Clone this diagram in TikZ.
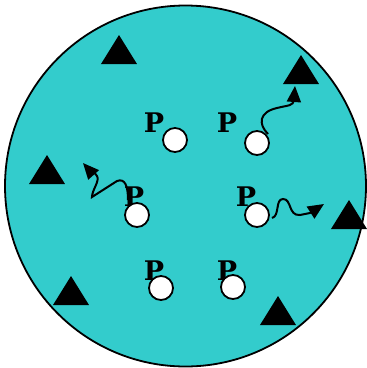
\documentclass[tikz,border=0pt]{standalone}
\usepackage{fontspec}
\newfontfamily\pfont{DejaVu Serif}
\usetikzlibrary{arrows.meta}
\tikzset{
  hole/.style={circle,draw=black,fill=white,line width=1.8pt,minimum size=24pt,inner sep=0pt},
  plabel/.style={font=\pfont\bfseries\fontsize{27}{27}\selectfont,inner sep=0pt},
  tri/.style={fill=black},
  bigtip/.tip={Triangle[length=16pt,width=14pt]},
  wavy/.style={line width=2pt,-bigtip}}
\begin{document}
\begin{tikzpicture}[x=1pt,y=-1pt]
\useasboundingbox (0,0) rectangle (367,368);
\node[circle,draw=black,fill={rgb,255:red,51;green,204;blue,204},line width=1.8pt,minimum size=361pt,inner sep=0pt] (disc) at (185.5,186) {};
% triangles
\foreach \x/\y in {119/50,301/70,47/170,349/215,71/291,278/311}
  \fill[tri] (\x-18,\y+14) -- (\x,\y-15) -- (\x+18,\y+14) -- cycle;
% labels and holes
\node[plabel] (p1) at (154,123) {P};
\node[plabel] (p2) at (227,123) {P};
\node[plabel] (p3) at (134,197) {P};
\node[plabel] (p4) at (246,197) {P};
\node[plabel] (p5) at (154,271) {P};
\node[plabel] (p6) at (227,271) {P};
\node[hole] (h1) at (175,140) {};
\node[hole] (h2) at (257,143) {};
\node[hole] (h3) at (137,215) {};
\node[hole] (h4) at (257,215) {};
\node[hole] (h5) at (161,288) {};
\node[hole] (h6) at (233,287) {};
\coordinate (e1) at (295,86);
\coordinate (e2) at (324,204);
\coordinate (e3) at (83,163);
\draw[wavy] (268,134) .. controls (258,124) and (259,112) .. (277,108) .. controls (289,105) and (293,106) .. (294,100) -- (e1);
\draw[wavy] (272,218) .. controls (280,216) and (275,199) .. (283,199) .. controls (292,199) and (288,216) .. (300,215) -- (310,213) -- (e2);
\draw[wavy] (128,200) .. controls (128,186) and (125,178) .. (117,181) -- (92,197) .. controls (92,190) and (100,181) .. (97,176) .. controls (95,172) and (91,172) .. (e3);
\end{tikzpicture}
\end{document}
